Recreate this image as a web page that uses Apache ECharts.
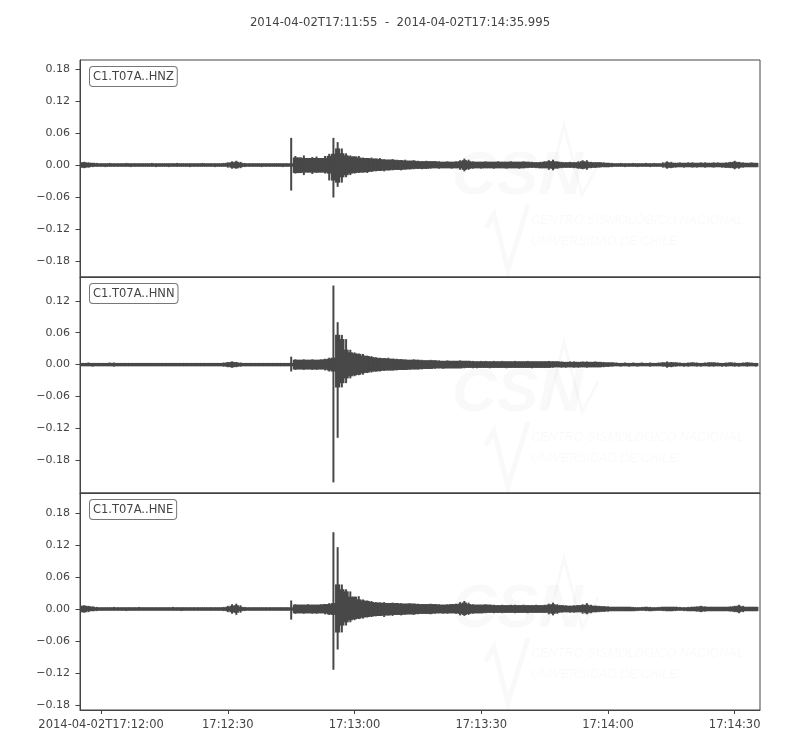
<!DOCTYPE html>
<html>
<head>
<meta charset="utf-8">
<script src="https://cdn.jsdelivr.net/npm/echarts@6.0.0/dist/echarts.min.js"></script>
<style>html,body{margin:0;padding:0;background:#fff}#chart{width:800px;height:750px}</style>
</head>
<body>
<div id="chart"></div>
<script>
// ---- data (min/max envelopes at 1 s steps from 2014-04-02T17:11:55) ----
const titleText = '2014-04-02T17:11:55  -  2014-04-02T17:14:35.995';
const traceNames = ['C1.T07A..HNZ', 'C1.T07A..HNN', 'C1.T07A..HNE'];
const startOffsetSec = -5;        // start time relative to 17:12:00
const endOffsetSec = 155.995;     // end time relative to 17:12:00
const xTickSec = [0, 30, 60, 90, 120, 150];
const xTickLabels = ['2014-04-02T17:12:00', '17:12:30', '17:13:00', '17:13:30', '17:14:00', '17:14:30'];
const yTicksZ = [-0.18, -0.12, -0.06, 0, 0.06, 0.12, 0.18];
const yTicksN = [-0.18, -0.12, -0.06, 0, 0.06, 0.12];
const yTicksE = [-0.18, -0.12, -0.06, 0, 0.06, 0.12, 0.18];
const yLimZ = [-0.2100, 0.1969];
const yLimN = [-0.2419, 0.1650];
const yLimE = [-0.1894, 0.2175];

const zUp = [
0.004,0.005,0.004,0.003,0.003,0.002,0.002,0.003,0.002,0.002,
0.002,0.003,0.002,0.002,0.002,0.002,0.002,0.003,0.002,0.002,
0.002,0.002,0.002,0.003,0.002,0.002,0.002,0.002,0.002,0.003,
0.002,0.002,0.002,0.002,0.003,0.004,0.006,0.007,0.005,0.003,
0.002,0.002,0.002,0.002,0.002,0.002,0.002,0.002,0.002,0.002,
0.050,0.016,0.013,0.017,0.012,0.014,0.015,0.012,0.016,0.020,
0.050,0.042,0.030,0.021,0.017,0.015,0.016,0.013,0.012,0.013,
0.011,0.012,0.010,0.009,0.010,0.009,0.008,0.009,0.007,0.008,
0.007,0.006,0.007,0.006,0.006,0.006,0.005,0.006,0.005,0.006,
0.008,0.011,0.009,0.006,0.005,0.005,0.006,0.005,0.005,0.006,
0.005,0.005,0.006,0.005,0.005,0.006,0.005,0.005,0.004,0.005,
0.006,0.008,0.009,0.006,0.005,0.004,0.005,0.004,0.006,0.008,
0.008,0.005,0.004,0.004,0.004,0.003,0.003,0.002,0.003,0.002,
0.002,0.003,0.002,0.002,0.003,0.002,0.003,0.002,0.004,0.006,
0.005,0.003,0.004,0.003,0.004,0.004,0.003,0.004,0.004,0.003,
0.004,0.004,0.003,0.004,0.005,0.007,0.005,0.004,0.003,0.004,0.003];
const zLow = [
-0.004,-0.005,-0.004,-0.003,-0.002,-0.002,-0.003,-0.002,-0.002,-0.002,
-0.002,-0.002,-0.003,-0.002,-0.002,-0.002,-0.002,-0.002,-0.003,-0.002,
-0.002,-0.003,-0.002,-0.002,-0.002,-0.002,-0.003,-0.002,-0.002,-0.002,
-0.002,-0.002,-0.003,-0.002,-0.002,-0.004,-0.006,-0.006,-0.005,-0.003,
-0.002,-0.002,-0.002,-0.003,-0.002,-0.002,-0.002,-0.002,-0.003,-0.002,
-0.047,-0.015,-0.014,-0.018,-0.013,-0.016,-0.014,-0.013,-0.015,-0.028,
-0.060,-0.040,-0.032,-0.022,-0.018,-0.015,-0.014,-0.013,-0.014,-0.012,
-0.011,-0.010,-0.011,-0.009,-0.009,-0.008,-0.009,-0.008,-0.007,-0.007,
-0.006,-0.007,-0.006,-0.006,-0.005,-0.006,-0.005,-0.005,-0.006,-0.005,
-0.008,-0.011,-0.008,-0.006,-0.005,-0.006,-0.005,-0.005,-0.006,-0.005,
-0.005,-0.006,-0.005,-0.005,-0.006,-0.005,-0.005,-0.004,-0.005,-0.005,
-0.005,-0.008,-0.009,-0.006,-0.005,-0.004,-0.004,-0.005,-0.006,-0.007,
-0.008,-0.005,-0.004,-0.004,-0.003,-0.003,-0.003,-0.002,-0.002,-0.003,
-0.002,-0.002,-0.003,-0.002,-0.002,-0.003,-0.002,-0.002,-0.004,-0.006,
-0.005,-0.004,-0.003,-0.004,-0.003,-0.004,-0.004,-0.003,-0.004,-0.003,
-0.004,-0.003,-0.004,-0.004,-0.005,-0.007,-0.006,-0.004,-0.003,-0.003,-0.003];

const nUp = [
0.002,0.002,0.003,0.002,0.002,0.002,0.002,0.003,0.003,0.002,
0.002,0.002,0.002,0.002,0.002,0.002,0.002,0.002,0.002,0.002,
0.002,0.002,0.002,0.002,0.002,0.002,0.002,0.002,0.002,0.002,
0.002,0.002,0.002,0.002,0.003,0.004,0.005,0.004,0.003,0.002,
0.002,0.002,0.002,0.002,0.002,0.002,0.002,0.002,0.002,0.002,
0.014,0.009,0.008,0.009,0.008,0.009,0.008,0.009,0.010,0.012,
0.148,0.079,0.055,0.047,0.027,0.022,0.020,0.019,0.016,0.015,
0.013,0.012,0.011,0.012,0.010,0.010,0.009,0.009,0.008,0.009,
0.008,0.008,0.007,0.008,0.007,0.007,0.006,0.007,0.006,0.006,
0.007,0.006,0.006,0.006,0.005,0.006,0.006,0.005,0.006,0.005,
0.006,0.005,0.005,0.006,0.005,0.005,0.006,0.005,0.005,0.005,
0.005,0.006,0.005,0.005,0.005,0.004,0.005,0.005,0.004,0.005,
0.005,0.004,0.005,0.004,0.004,0.003,0.003,0.003,0.002,0.003,
0.002,0.003,0.002,0.003,0.002,0.003,0.002,0.003,0.003,0.005,
0.004,0.003,0.003,0.002,0.003,0.003,0.003,0.002,0.003,0.003,
0.003,0.003,0.002,0.003,0.003,0.003,0.002,0.003,0.003,0.003,0.002];
const nLow = [
-0.002,-0.002,-0.002,-0.003,-0.002,-0.002,-0.002,-0.002,-0.003,-0.002,
-0.002,-0.002,-0.002,-0.002,-0.002,-0.002,-0.002,-0.002,-0.002,-0.002,
-0.002,-0.002,-0.002,-0.002,-0.002,-0.002,-0.002,-0.002,-0.002,-0.002,
-0.002,-0.002,-0.002,-0.002,-0.003,-0.004,-0.005,-0.004,-0.003,-0.002,
-0.002,-0.002,-0.002,-0.002,-0.002,-0.002,-0.002,-0.002,-0.002,-0.002,
-0.012,-0.009,-0.008,-0.009,-0.008,-0.009,-0.009,-0.008,-0.010,-0.012,
-0.221,-0.137,-0.042,-0.034,-0.025,-0.021,-0.019,-0.018,-0.015,-0.014,
-0.012,-0.012,-0.011,-0.010,-0.010,-0.010,-0.009,-0.009,-0.009,-0.008,
-0.008,-0.008,-0.007,-0.007,-0.007,-0.006,-0.007,-0.006,-0.006,-0.006,
-0.006,-0.006,-0.005,-0.006,-0.006,-0.005,-0.005,-0.006,-0.005,-0.005,
-0.005,-0.006,-0.005,-0.005,-0.005,-0.005,-0.005,-0.006,-0.005,-0.005,
-0.005,-0.005,-0.005,-0.004,-0.005,-0.005,-0.004,-0.005,-0.005,-0.004,
-0.005,-0.004,-0.004,-0.004,-0.004,-0.003,-0.003,-0.002,-0.003,-0.002,
-0.003,-0.002,-0.003,-0.002,-0.002,-0.003,-0.002,-0.002,-0.003,-0.005,
-0.004,-0.003,-0.002,-0.003,-0.003,-0.002,-0.003,-0.003,-0.002,-0.003,
-0.003,-0.002,-0.003,-0.003,-0.002,-0.003,-0.003,-0.002,-0.003,-0.002,-0.003];

const eUp = [
0.005,0.006,0.005,0.004,0.003,0.002,0.002,0.002,0.003,0.002,
0.002,0.002,0.002,0.002,0.003,0.002,0.002,0.002,0.002,0.002,
0.002,0.002,0.003,0.002,0.002,0.002,0.002,0.002,0.002,0.002,
0.002,0.002,0.002,0.002,0.003,0.005,0.008,0.009,0.006,0.003,
0.002,0.002,0.002,0.002,0.002,0.002,0.002,0.002,0.002,0.002,
0.015,0.008,0.007,0.007,0.008,0.007,0.007,0.008,0.008,0.010,
0.143,0.115,0.045,0.036,0.032,0.022,0.023,0.017,0.015,0.014,
0.012,0.011,0.012,0.010,0.011,0.010,0.010,0.009,0.010,0.009,
0.009,0.008,0.008,0.009,0.008,0.008,0.007,0.008,0.008,0.009,
0.012,0.014,0.011,0.008,0.007,0.007,0.008,0.007,0.007,0.006,
0.007,0.006,0.007,0.007,0.006,0.007,0.006,0.006,0.007,0.006,
0.007,0.009,0.011,0.008,0.006,0.006,0.005,0.006,0.006,0.008,
0.010,0.007,0.005,0.005,0.004,0.004,0.003,0.003,0.003,0.003,
0.003,0.003,0.002,0.003,0.003,0.003,0.002,0.003,0.003,0.003,
0.003,0.003,0.003,0.002,0.003,0.003,0.004,0.005,0.004,0.003,
0.003,0.003,0.003,0.003,0.004,0.005,0.007,0.005,0.003,0.003,0.003];
const eLow = [
-0.005,-0.006,-0.005,-0.003,-0.003,-0.002,-0.002,-0.002,-0.002,-0.002,
-0.002,-0.003,-0.002,-0.002,-0.002,-0.002,-0.002,-0.002,-0.002,-0.002,
-0.002,-0.002,-0.002,-0.002,-0.003,-0.002,-0.002,-0.002,-0.002,-0.002,
-0.002,-0.002,-0.002,-0.002,-0.003,-0.005,-0.008,-0.010,-0.006,-0.003,
-0.002,-0.002,-0.002,-0.002,-0.002,-0.002,-0.002,-0.002,-0.002,-0.002,
-0.019,-0.008,-0.007,-0.008,-0.007,-0.008,-0.008,-0.007,-0.009,-0.010,
-0.113,-0.075,-0.043,-0.030,-0.024,-0.020,-0.018,-0.017,-0.015,-0.014,
-0.013,-0.012,-0.014,-0.011,-0.012,-0.010,-0.011,-0.010,-0.009,-0.010,
-0.009,-0.008,-0.008,-0.009,-0.008,-0.007,-0.008,-0.008,-0.007,-0.008,
-0.011,-0.012,-0.010,-0.008,-0.007,-0.007,-0.007,-0.006,-0.007,-0.006,
-0.007,-0.006,-0.006,-0.007,-0.006,-0.006,-0.007,-0.006,-0.006,-0.006,
-0.006,-0.009,-0.011,-0.008,-0.006,-0.005,-0.006,-0.006,-0.005,-0.008,
-0.009,-0.007,-0.005,-0.005,-0.004,-0.004,-0.003,-0.003,-0.003,-0.003,
-0.003,-0.003,-0.003,-0.002,-0.003,-0.003,-0.003,-0.002,-0.003,-0.003,
-0.003,-0.003,-0.002,-0.003,-0.003,-0.003,-0.004,-0.005,-0.004,-0.003,
-0.003,-0.003,-0.003,-0.003,-0.004,-0.005,-0.007,-0.005,-0.003,-0.003,-0.003];

// ---- build chart ----
const FONT = 'DejaVu Sans';
const TXT = '#444';
const TRACE = '#484848';
const panels = [
  {up: zUp, low: zLow, lim: yLimZ, ticks: yTicksZ, top: 60, height: 217},
  {up: nUp, low: nLow, lim: yLimN, ticks: yTicksN, top: 277, height: 216},
  {up: eUp, low: eLow, lim: yLimE, ticks: yTicksE, top: 493, height: 217}
];

function minmax(up, low) {
  return up.map((u, i) => [startOffsetSec + i, low[i], u, i]);
}
function fmtY(v) {
  const a = Math.abs(v).toFixed(2);
  return (v < -1e-9 ? '\u2212' : '') + a;
}
// each second is drawn as a min/max column; the part that rises above both
// neighbouring columns is drawn as a thin stroke (like a single swing)
function makeRenderer(up, low) {
  return function (params, api) {
    const t = api.value(0), lo = api.value(1), hi = api.value(2), i = api.value(3);
    const n = up.length;
    const hiN = Math.min(up[Math.max(i - 1, 0)], up[Math.min(i + 1, n - 1)]);
    const loN = Math.max(low[Math.max(i - 1, 0)], low[Math.min(i + 1, n - 1)]);
    const wideHi = Math.min(hi, hiN), wideLo = Math.max(lo, loN);
    const a = api.coord([t - 0.5, wideHi]), b = api.coord([t + 0.5, wideLo]);
    const top = api.coord([t, hi]), bot = api.coord([t, lo]);
    return {type: 'group', children: [
      {type: 'rect', shape: {x: a[0] - 0.5, y: a[1] - 0.6, width: b[0] - a[0] + 1, height: b[1] - a[1] + 1.2},
        style: {fill: TRACE}},
      {type: 'rect', shape: {x: top[0] - 1, y: top[1] - 0.5, width: 2, height: bot[1] - top[1] + 1},
        style: {fill: TRACE}}
    ]};
  };
}

const grids = [], xAxes = [], yAxes = [], series = [], graphics = [];
panels.forEach((p, k) => {
  grids.push({left: 80, right: 40, top: p.top, height: p.height, show: true,
    borderColor: '#444', borderWidth: 1, backgroundColor: 'transparent', containLabel: false});
  const last = k === panels.length - 1;
  xAxes.push({type: 'value', gridIndex: k, min: startOffsetSec, max: endOffsetSec, position: 'bottom',
    axisLine: {show: true, onZero: false, lineStyle: {color: '#444'}}, splitLine: {show: false},
    axisTick: {show: last, length: 4, lineStyle: {color: '#444'}, customValues: xTickSec},
    axisLabel: {show: last, customValues: xTickSec, margin: 9, color: TXT, fontFamily: FONT, fontSize: 11.5,
      formatter: v => xTickLabels[xTickSec.indexOf(Math.round(v))] || ''}});
  yAxes.push({type: 'value', gridIndex: k, min: p.lim[0], max: p.lim[1], position: 'left',
    axisLine: {show: true, onZero: false, lineStyle: {color: '#444'}}, splitLine: {show: false},
    axisTick: {show: true, length: 4.5, lineStyle: {color: '#444', width: 1}, customValues: p.ticks},
    axisLabel: {customValues: p.ticks, margin: 10, color: TXT, fontFamily: FONT, fontSize: 11, formatter: fmtY}});
  series.push({type: 'custom', xAxisIndex: k, yAxisIndex: k, data: minmax(p.up, p.low),
    renderItem: makeRenderer(p.up, p.low), clip: true, animation: false, z: 3, silent: true});
  // faint watermark
  const off = p.top - 60;
  const wm = 'rgba(0,0,0,0.022)';
  graphics.push({type: 'text', x: 452, y: 146 + off, z: 0, silent: true,
    style: {text: 'CSN', fontSize: 62, fontStyle: 'italic', fontWeight: 'bold', fontFamily: 'Liberation Sans', fill: wm}});
  graphics.push({type: 'text', x: 531, y: 214 + off, z: 0, silent: true,
    style: {text: 'CENTRO SISMOLÓGICO NACIONAL', fontSize: 12.5, fontStyle: 'italic', fontFamily: 'Liberation Sans', fill: wm}});
  graphics.push({type: 'text', x: 531, y: 235 + off, z: 0, silent: true,
    style: {text: 'UNIVERSIDAD DE CHILE', fontSize: 12.5, fontStyle: 'italic', fontFamily: 'Liberation Sans', fill: wm}});
  graphics.push({type: 'polyline', z: 0, silent: true,
    shape: {points: [[486, 228 + off], [494, 214 + off], [508, 270 + off], [528, 205 + off]]},
    style: {stroke: wm, lineWidth: 5, fill: null}});
  graphics.push({type: 'polyline', z: 0, silent: true,
    shape: {points: [[548, 190 + off], [564, 125 + off], [582, 195 + off], [598, 165 + off]]},
    style: {stroke: wm, lineWidth: 3, fill: null}});
  // station label box
  graphics.push({type: 'text', x: 90, y: p.top + 7, z: 100, silent: true,
    style: {text: traceNames[k], fontSize: 11.5, fontFamily: FONT, fill: TXT,
      backgroundColor: '#fff', borderColor: '#777', borderWidth: 1, borderRadius: 3, padding: [4, 3, 3, 3]}});
});

const chart = echarts.init(document.getElementById('chart'), null, {renderer: 'canvas'});
chart.setOption({
  animation: false,
  backgroundColor: '#fff',
  title: {text: titleText, left: 'center', top: 12,
    textStyle: {fontSize: 11.7, fontWeight: 'normal', color: TXT, fontFamily: FONT}},
  grid: grids, xAxis: xAxes, yAxis: yAxes, series: series, graphic: graphics
});
</script>
</body>
</html>
